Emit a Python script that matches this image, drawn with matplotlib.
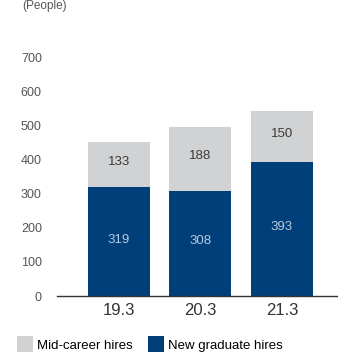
import matplotlib
matplotlib.use("Agg")
import matplotlib.pyplot as plt

# hires per fiscal year
years = ["19.3", "20.3", "21.3"]
new_grad = [319, 308, 393]
mid_career = [133, 188, 150]

navy = "#003f7a"
grey = "#d1d2d4"

plt.rcParams['font.family'] = ['Liberation Sans', 'DejaVu Sans']

fig = plt.figure(figsize=(3.38, 3.52), dpi=100)
ax = fig.add_axes([0.169, 0.159, 0.831, 0.679])

x = range(len(years))
b1 = ax.bar(x, new_grad, width=0.76, color=navy, label="New graduate hires")
b2 = ax.bar(x, mid_career, width=0.76, bottom=new_grad, color=grey, label="Mid-career hires")

for i in x:
    ax.text(i, new_grad[i] / 2 + 6, str(new_grad[i]), ha='center', va='center',
            color="#b9c9dc", fontsize=9.5)
    ax.text(i, new_grad[i] + mid_career[i] / 2 + 8, str(mid_career[i]), ha='center', va='center',
            color="#3a3a3a", fontsize=9.5)

ax.set_xlim(-0.76, 2.69)
ax.set_ylim(0, 700)
ax.set_yticks(range(0, 701, 100))
ax.set_xticks(list(x))
ax.set_xticklabels(years, fontsize=12, color="#333333")
ax.tick_params(axis='y', length=0, labelsize=9, labelcolor="#555555", pad=11)
ax.tick_params(axis='x', length=0, pad=5)
for s in ["top", "right", "left"]:
    ax.spines[s].set_visible(False)
ax.spines["bottom"].set_color("#333333")
ax.spines["bottom"].set_linewidth(1.0)

fig.text(0.065, 1.0, "(People)", ha='left', va='top', fontsize=8.5, color="#555555")

fig.legend(handles=[b2, b1], labels=["Mid-career hires", "New graduate hires"],
           loc='lower left', bbox_to_anchor=(0.015, -0.035), ncol=2, frameon=False,
           handlelength=1.2, handleheight=1.5, handletextpad=0.3,
           columnspacing=1.2, prop={'family': ['DejaVu Sans Condensed', 'Liberation Sans'],
                                    'stretch': 'condensed', 'size': 9.5})

fig.savefig("out.png", dpi=100)
